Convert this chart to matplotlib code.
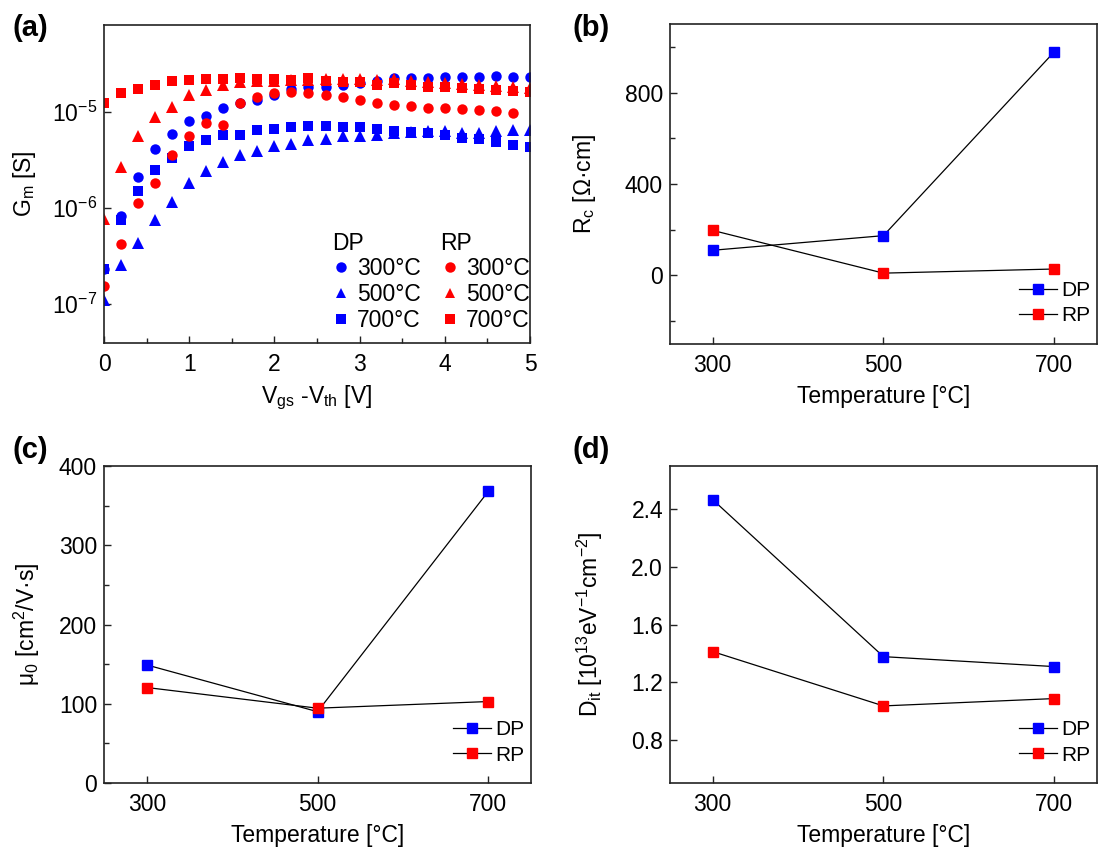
import matplotlib
matplotlib.use("Agg")
import matplotlib.pyplot as plt
from matplotlib.lines import Line2D
from matplotlib.ticker import MultipleLocator, FixedLocator, NullLocator, FormatStrFormatter

plt.rcParams['font.family'] = ['Liberation Sans', 'DejaVu Sans']
plt.rcParams['mathtext.fontset'] = 'custom'
plt.rcParams['mathtext.rm'] = 'Liberation Sans'
plt.rcParams['mathtext.it'] = 'Liberation Sans:italic'
plt.rcParams['mathtext.default'] = 'regular'

BLUE = '#0000ff'
RED = '#ff0000'

# ---- panel (a): transconductance vs overdrive ----
vov = [0.0, 0.2, 0.4, 0.6, 0.8, 1.0, 1.2, 1.4, 1.6, 1.8, 2.0, 2.2, 2.4,
       2.6, 2.8, 3.0, 3.2, 3.4, 3.6, 3.8, 4.0, 4.2, 4.4, 4.6, 4.8, 5.0]
# values in 1e-6 S
gm_dp300 = [0.23, 0.82, 2.09, 4.07, 5.87, 7.88, 8.88, 11.0, 12.2, 13.2, 14.75, 17.2, 18.1,
            17.9, 18.9, 19.6, 20.9, 22.1, 22.1, 22.4, 22.65, 22.65, 23.0, 23.6, 23.0, 22.65]
gm_dp500 = [0.11, 0.255, 0.43, 0.75, 1.15, 1.79, 2.4, 2.97, 3.56, 3.92, 4.41, 4.63, 5.09,
            5.18, 5.51, 5.51, 5.74, 5.97, 6.06, 6.21, 6.21, 5.97, 5.97, 6.21, 6.36, 6.46]
gm_dp700 = [0.23, 0.74, 1.48, 2.49, 3.29, 4.35, 5.09, 5.65, 5.74, 6.46, 6.62, 6.89, 7.11,
            7.0, 6.89, 6.89, 6.57, 6.21, 6.06, 5.97, 5.74, 5.3, 5.18, 4.78, 4.52, 4.28]
gm_rp300 = [0.152, 0.417, 1.11, 1.79, 3.53, 5.51, 7.58, 7.28, 12.4, 14.3, 15.5, 16.1, 15.5,
            14.9, 14.1, 13.2, 12.4, 11.7, 11.4, 11.0, 10.8, 10.6, 10.4, 10.2, 9.76]
gm_rp500 = [0.757, 2.64, 5.6, 8.67, 11.1, 14.9, 16.7, 18.9, 20.4, 20.8, 21.0, 21.3, 21.5,
            21.6, 21.6, 21.6, 21.3, 21.6, 20.9, 20.4, 20.0, 19.3, 18.9, 18.4, 17.85, 17.5]
gm_rp700 = [12.2, 15.5, 17.1, 18.9, 20.6, 21.1, 21.6, 21.8, 22.3, 22.0, 21.6, 21.1, 22.1,
            20.9, 20.4, 20.4, 18.9, 19.6, 18.9, 18.1, 18.1, 17.4, 17.0, 16.75, 16.5, 16.1]
temp_labels = ['300\u00b0C', '500\u00b0C', '700\u00b0C']

# ---- panels (b)-(d): extracted parameters vs anneal temperature ----
temps = [300, 500, 700]
rc_dp = [110, 174, 978]
rc_rp = [197, 10, 28]
mu_dp = [149, 90, 368]
mu_rp = [120.5, 94.4, 102.8]
dit_dp = [2.467, 1.377, 1.308]
dit_rp = [1.412, 1.035, 1.086]

FS = 16.5
fig = plt.figure(figsize=(11.09, 8.63), dpi=100)

def style_axes(ax):
    for s in ax.spines.values():
        s.set_linewidth(1.2)
        s.set_color('#222222')
    ax.tick_params(which='both', direction='in', top=False, right=False,
                   labelsize=FS, width=1.0, color='#222222')
    ax.tick_params(which='major', length=5)
    ax.tick_params(which='minor', length=3.5)
    ax.tick_params(axis='x', which='both', pad=7)
    ax.tick_params(axis='y', which='both', pad=5)

# (a)
ax = fig.add_axes([0.0938, 0.6026, 0.3841, 0.3685])
ms = 7.5
ax.plot(vov, [v * 1e-6 for v in gm_dp300], 'o', color=BLUE, ms=ms, mew=0)
ax.plot(vov, [v * 1e-6 for v in gm_dp500], '^', color=BLUE, ms=ms + 1, mew=0)
ax.plot(vov, [v * 1e-6 for v in gm_dp700], 's', color=BLUE, ms=ms - 0.5, mew=0)
ax.plot(vov[:len(gm_rp300)], [v * 1e-6 for v in gm_rp300], 'o', color=RED, ms=ms, mew=0)
ax.plot(vov, [v * 1e-6 for v in gm_rp500], '^', color=RED, ms=ms + 1, mew=0)
ax.plot(vov, [v * 1e-6 for v in gm_rp700], 's', color=RED, ms=ms - 0.5, mew=0)
ax.set_yscale('log')
ax.set_xlim(0, 5)
ax.set_ylim(3.9e-8, 7.96e-5)
ax.xaxis.set_major_locator(MultipleLocator(1))
ax.xaxis.set_minor_locator(MultipleLocator(0.5))
ax.yaxis.set_major_locator(FixedLocator([1e-7, 1e-6, 1e-5]))
ax.yaxis.set_minor_locator(NullLocator())
style_axes(ax)
ax.set_xlabel('V$_{gs}$ -V$_{th}$ [V]', fontsize=FS, labelpad=6)
ax.set_ylabel('G$_{m}$ [S]', fontsize=FS)
ax.yaxis.set_label_coords(-0.155, 0.5)

markers = ['o', '^', 's']
dp_handles = [Line2D([], [], ls='none', marker=m, color=BLUE, ms=ms, mew=0) for m in markers]
rp_handles = [Line2D([], [], ls='none', marker=m, color=RED, ms=ms, mew=0) for m in markers]
leg_kw = dict(frameon=False, fontsize=FS, title_fontsize=FS, alignment='left',
              handlelength=0.8, handletextpad=0.3, labelspacing=0.12, borderpad=0,
              borderaxespad=0, loc='lower left')
leg1 = ax.legend(dp_handles, temp_labels, title='DP', bbox_to_anchor=(0.535, 0.035), **leg_kw)
ax.add_artist(leg1)
ax.legend(rp_handles, temp_labels, title='RP', bbox_to_anchor=(0.79, 0.035), **leg_kw)

def temp_panel(rect, dp, rp, ylim, major, minor, ylabel, label_x):
    ax = fig.add_axes(rect)
    ax.plot(temps, dp, '-', color='black', lw=0.9, marker='s', mfc=BLUE, mec=BLUE,
            ms=7.2, label='DP')
    ax.plot(temps, rp, '-', color='black', lw=0.9, marker='s', mfc=RED, mec=RED,
            ms=7.2, label='RP')
    ax.set_xlim(250, 750)
    ax.set_ylim(*ylim)
    ax.xaxis.set_major_locator(FixedLocator(temps))
    ax.yaxis.set_major_locator(MultipleLocator(major))
    if minor:
        ax.yaxis.set_minor_locator(MultipleLocator(minor))
    style_axes(ax)
    ax.set_xlabel('Temperature [\u00b0C]', fontsize=FS, labelpad=6)
    ax.set_ylabel(ylabel, fontsize=FS)
    ax.yaxis.set_label_coords(label_x, 0.5)
    ax.legend(loc='lower right', bbox_to_anchor=(0.984, 0.058), frameon=False,
              fontsize=FS - 1.5, handlelength=1.8, handletextpad=0.2, labelspacing=0.3,
              borderpad=0, borderaxespad=0)
    return ax

axb = temp_panel([0.6041, 0.6014, 0.385, 0.3708], rc_dp, rc_rp, (-300, 1100), 400, 200,
                 'R$_{c}$ [\u03a9\u00b7cm]', -0.169)
axc = temp_panel([0.0938, 0.0927, 0.385, 0.3673], mu_dp, mu_rp, (0, 400), 100, 50,
                 '\u03bc$_{0}$ [cm$^{2}$/V\u00b7s]', -0.145)
axd = temp_panel([0.6041, 0.0927, 0.385, 0.3673], dit_dp, dit_rp, (0.5, 2.7), 0.4, None,
                 'D$_{it}$ [10$^{13}$eV$^{-1}$cm$^{-2}$]', -0.152)
axd.yaxis.set_major_formatter(FormatStrFormatter('%.1f'))

# panel letters
for x, y, t in [(0.011, 0.967, '(a)'), (0.516, 0.967, '(b)'),
                (0.011, 0.479, '(c)'), (0.516, 0.479, '(d)')]:
    fig.text(x, y, t, fontsize=21, fontweight='bold', ha='left', va='center')

fig.savefig('out.png', dpi=100)
